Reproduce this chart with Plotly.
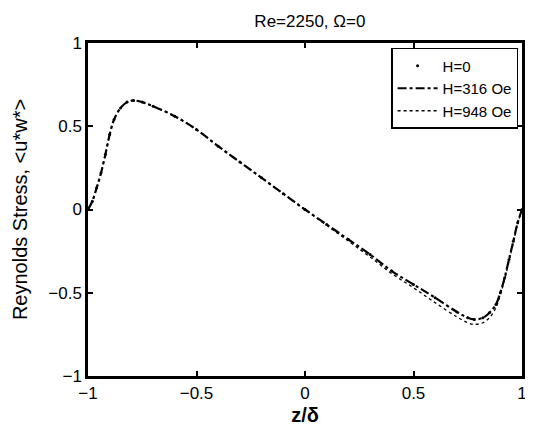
import plotly.graph_objects as go

z = [-1.0, -0.98, -0.96, -0.94, -0.92, -0.9, -0.88, -0.85, -0.82, -0.79, -0.75, -0.7,
     -0.6, -0.5, -0.4, -0.3, -0.2, -0.1, 0.0, 0.1, 0.2, 0.3, 0.4, 0.5, 0.6, 0.7,
     0.75, 0.78, 0.82, 0.85, 0.88, 0.9, 0.92, 0.94, 0.96, 0.98, 1.0]

h0 = [0.0, 0.05, 0.13, 0.22, 0.33, 0.45, 0.54, 0.61, 0.645, 0.655, 0.645, 0.62,
      0.56, 0.48, 0.38, 0.285, 0.19, 0.095, 0.0, -0.09, -0.18, -0.27, -0.37, -0.45, -0.53, -0.615,
      -0.65, -0.66, -0.65, -0.62, -0.57, -0.5, -0.41, -0.3, -0.19, -0.08, 0.0]

h316 = [0.0, 0.05, 0.13, 0.22, 0.33, 0.45, 0.54, 0.61, 0.645, 0.655, 0.645, 0.62,
        0.56, 0.48, 0.38, 0.285, 0.19, 0.095, 0.0, -0.09, -0.18, -0.27, -0.37, -0.45, -0.53, -0.615,
        -0.65, -0.66, -0.65, -0.62, -0.57, -0.5, -0.41, -0.3, -0.19, -0.08, 0.0]

h948 = [0.0, 0.05, 0.13, 0.22, 0.33, 0.45, 0.54, 0.61, 0.645, 0.655, 0.645, 0.62,
        0.56, 0.48, 0.38, 0.285, 0.19, 0.095, 0.0, -0.095, -0.19, -0.285, -0.385, -0.47, -0.56, -0.645,
        -0.68, -0.69, -0.68, -0.65, -0.59, -0.51, -0.42, -0.31, -0.2, -0.085, 0.0]

ticks = [-1, -0.5, 0, 0.5, 1]
tick_text = ["\u22121", "\u22120.5", "0", "0.5", "1"]

FONT = "Liberation Sans, Arial, Helvetica, sans-serif"

fig = go.Figure()
fig.add_trace(go.Scatter(x=z, y=h0, mode="markers", name="H=0",
                         marker=dict(color="black", size=3)))
fig.add_trace(go.Scatter(x=z, y=h316, mode="lines", name="H=316 Oe",
                         line=dict(color="black", width=2.2, dash="dashdot", shape="spline")))
fig.add_trace(go.Scatter(x=z, y=h948, mode="lines", name="H=948 Oe",
                         line=dict(color="black", width=1.3, dash="dot", shape="spline")))

axis_common = dict(
    tickvals=ticks, ticktext=tick_text, ticks="inside", ticklen=5, tickwidth=1.5,
    tickcolor="black", showline=True, linecolor="black", linewidth=2.5, mirror="ticks",
    showgrid=False, zeroline=False, range=[-1, 1],
    tickfont=dict(family=FONT, size=17, color="black"),
)

# page body has an 8px margin, so the figure is 8px smaller and shifted accordingly
fig.update_layout(
    width=525, height=427,
    margin=dict(l=80, r=6, t=35, b=59),
    paper_bgcolor="white", plot_bgcolor="white",
    title=dict(text="Re=2250, \u03a9=0", x=0.575, xanchor="center", y=0.97, yanchor="middle",
               font=dict(family=FONT, size=17, color="black")),
    xaxis=dict(axis_common, title=dict(text="<b>z/\u03b4</b>", standoff=6,
                                      font=dict(family=FONT, size=20, color="black"))),
    yaxis=dict(axis_common, title=dict(text="Reynolds Stress, <u*w*>", standoff=16,
                                      font=dict(family=FONT, size=20, color="black"))),
    legend=dict(x=0.991, xanchor="right", y=0.985, yanchor="top",
                bordercolor="black", borderwidth=1.5, bgcolor="white",
                font=dict(family=FONT, size=15, color="black"),
                tracegroupgap=0, itemwidth=40),
    showlegend=True,
)

fig.write_html("out.html")
